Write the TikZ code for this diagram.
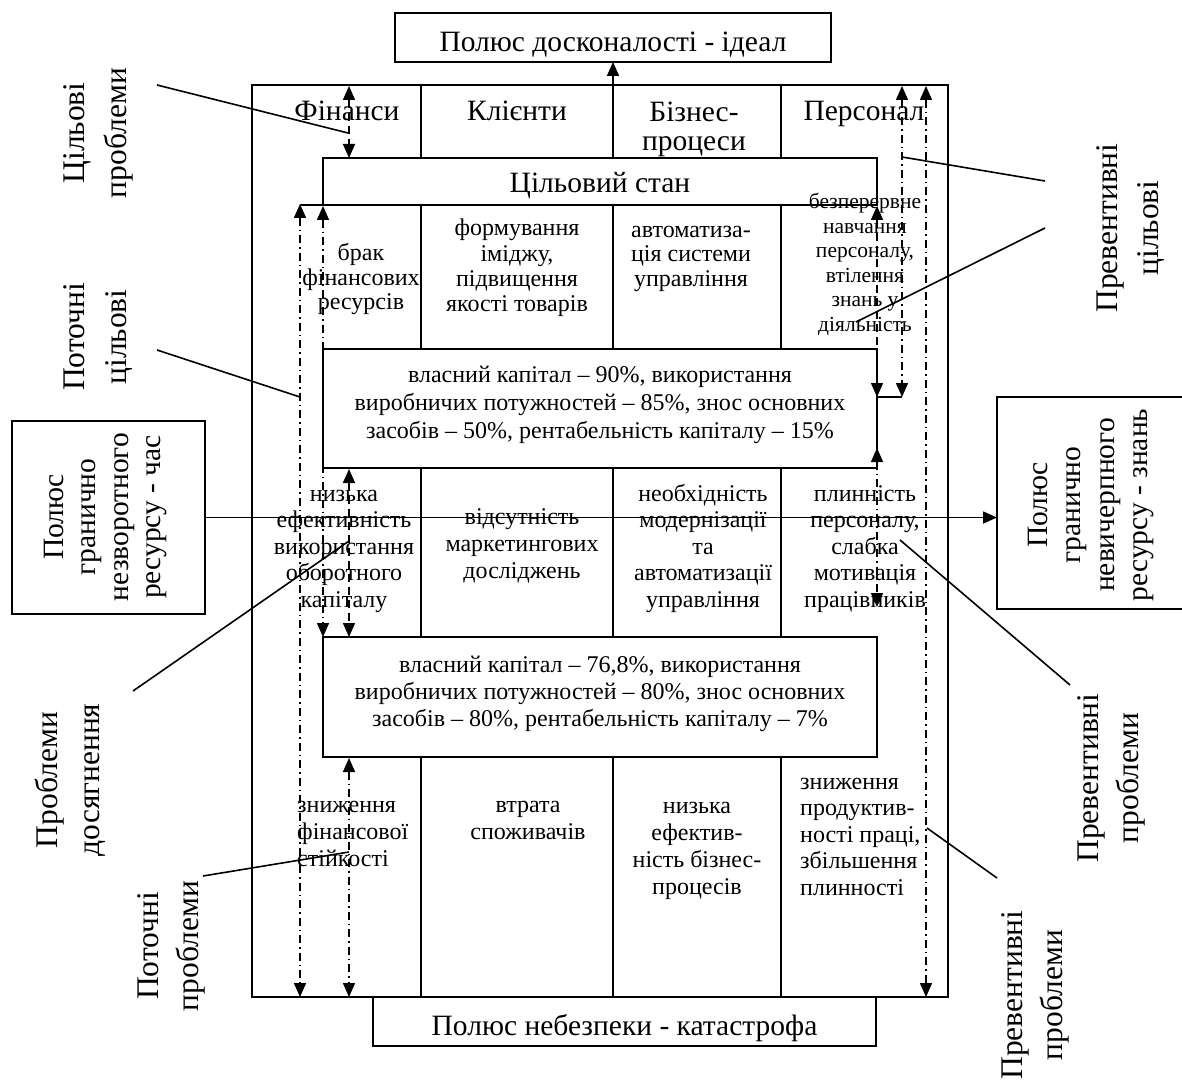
\documentclass[tikz,border=0pt]{standalone}
\usepackage{fontspec}
\setmainfont{Liberation Serif}
\usetikzlibrary{arrows.meta}

\newcommand\fBig{\fontsize{29.5}{33}\selectfont}
\newcommand\fCell{\fontsize{24}{27}\selectfont}
\newcommand\fSmall{\fontsize{21.5}{24}\selectfont}
\newcommand\fLbl{\fontsize{31.5}{36}\selectfont}

% horizontal lines of text, one node per line: name, x, first baseline y, gap, lines
\newcommand\hlines[6][celltext]{%
  \foreach \ln [count=\i] in {#6} {
    \node[#1] (#2-\i) at (#3, {#4+(\i-1)*#5}) {\ln};
  }}
% rotated lines of text (read upwards): name, first baseline x, gap, centre y, lines
\newcommand\vlines[6][vtext]{%
  \foreach \ln [count=\i] in {#6} {
    \node[#1] (#2-\i) at ({#3+(\i-1)*#4}, #5) {\ln};
  }}

\begin{document}
\begin{tikzpicture}[x=1pt,y=-1pt,
  >={Triangle[length=14pt,width=12pt]},
  boxline/.style={draw, line width=1.8pt, inner sep=0pt, outer sep=0pt},
  rule/.style={line width=1.8pt},
  lead/.style={line width=1.6pt},
  dashdot/.style={line width=1.5pt, dash pattern=on 8pt off 4pt on 1.5pt off 4pt, <->},
  dashonly/.style={line width=1.5pt, dash pattern=on 8pt off 5pt, <->},
  celltext/.style={anchor=base, inner sep=0pt, font=\fCell},
  cellleft/.style={anchor=base west, inner sep=0pt, font=\fCell},
  smalltext/.style={anchor=base, inner sep=0pt, font=\fSmall},
  bigtext/.style={anchor=base, inner sep=0pt, font=\fBig},
  vtext/.style={anchor=base, rotate=90, inner sep=0pt, font=\fLbl},
  vbox/.style={anchor=base, rotate=90, inner sep=0pt, font=\fBig}]

\fill[white] (0,0) rectangle (1182,1083);
\useasboundingbox (0,0) rectangle (1182,1083);

% frames
\node[boxline, minimum width=696pt, minimum height=912pt] (frame) at (600,541) {};
\node[boxline, minimum width=436pt, minimum height=49pt] (ideal) at (613,37.5) {};
\node[boxline, minimum width=554pt, minimum height=47pt] (tgt) at (600,181.5) {};
\node[boxline, minimum width=554pt, minimum height=119pt] (plan) at (600,408.5) {};
\node[boxline, minimum width=554pt, minimum height=120pt] (cur) at (600,697) {};
\node[boxline, minimum width=503pt, minimum height=49pt] (danger) at (624.5,1021.5) {};
\node[boxline, minimum width=193pt, minimum height=193pt] (lbox) at (108.5,517.5) {};
\node[boxline, minimum width=203pt, minimum height=212pt] (rbox) at (1098.5,503) {};

% column rules
\foreach \x in {420.8,612.7,781} {
  \draw[rule] (\x,85) -- (\x,158);
  \draw[rule] (\x,205) -- (\x,349);
  \draw[rule] (\x,468) -- (\x,637);
  \draw[rule] (\x,757) -- (\x,997);
}

% connector end points
\coordinate (aT) at (300,205); \coordinate (aB) at (300,997);
\coordinate (bT) at (323,206); \coordinate (bB) at (323,637);
\coordinate (cT) at (349,469); \coordinate (cB) at (349,637);
\coordinate (dT) at (349,758); \coordinate (dB) at (349,997);
\coordinate (eT) at (349,86);  \coordinate (eB) at (349,158);
\coordinate (fT) at (902,86);  \coordinate (fB) at (902,397);
\coordinate (gT) at (926,86);  \coordinate (gB) at (926,997);
\coordinate (hT) at (877,206); \coordinate (hB) at (877,397);
\coordinate (iT) at (877,448); \coordinate (iB) at (877,607);

\draw[rule] (tgt.south west) -- (aT);
\draw[rule] (hB) -- (fB);

% main arrows
\draw[rule, ->] (tgt.north -| ideal.south) -- (ideal.south);
\draw[lead, ->] (lbox.east) -- (lbox.east -| rbox.west);

% dashed links
\draw[dashdot] ([yshift=1pt]aT) -- (aB);
\draw[dashdot] (bT) -- (bB);
\draw[dashonly] (cT) -- (cB);
\draw[dashdot] (dT) -- (dB);
\draw[dashonly] (eT) -- (eB);
\draw[dashdot] (fT) -- (fB);
\draw[dashdot] (gT) -- (gB);
\draw[dashonly] (hT) -- (hB);
\draw[dashdot] (iT) -- (iB);

% leaders
\coordinate (ltp) at (157,85);   \coordinate (ltpE) at (348,133);
\coordinate (lpc) at (157,350);  \coordinate (lpcE) at (300,397);
\coordinate (lpd) at (133,691);  \coordinate (lpdE) at (349,541);
\coordinate (lpp) at (203,876);  \coordinate (lppE) at (349,852);
\coordinate (rpc) at (1045,181); \coordinate (rpcE) at (902,157);
\coordinate (rpcb) at (1045,228);\coordinate (rpcbE) at (856,322);
\coordinate (rpp) at (1070,685); \coordinate (rppE) at (900,540);
\coordinate (rppb) at (997,878); \coordinate (rppbE) at (927,828);
\foreach \p in {ltp,lpc,lpd,lpp,rpc,rpcb,rpp,rppb}
  \draw[lead] (\p) -- (\p E);

% box titles
\node[bigtext] (ideal-t) at (613,52) {Полюс досконалості - ідеал};
\node[bigtext] (tgt-t) at (600,193) {Цільовий стан};
\node[bigtext] (danger-t) at (624.5,1035) {Полюс небезпеки - катастрофа};

% column heads
\hlines[bigtext]{h1}{347}{121}{29}{Фінанси}
\hlines[bigtext]{h2}{517}{121}{29}{Клієнти}
\hlines[bigtext]{h3}{694}{122}{29}{Бізнес-,процеси}
\hlines[bigtext]{h4}{864}{121}{29}{Персонал}

% goals
\hlines{c21}{361}{261}{24}{брак,фінансових,ресурсів}
\hlines{c22}{517}{236}{25.3}{формування,{іміджу,},підвищення,якості товарів}
\hlines{c23}{691}{237}{24.5}{автоматиза-,ція системи,управління}
\hlines[smalltext]{c24}{865}{209}{24.4}{безперервне,навчання,{персоналу,},втілення,знань у,діяльність}

% planned state
\hlines{pl}{600}{382}{28}{{власний капітал – 90\%, використання},{виробничих потужностей – 85\%, знос основних},{засобів – 50\%, рентабельність капіталу – 15\%}}

% problems of reaching
\hlines{c31}{344}{501}{26.5}{низька,ефективність,використання,оборотного,капіталу}
\hlines{c32}{522}{524}{27}{відсутність,маркетингових,досліджень}
\hlines{c33}{703}{501}{26.5}{необхідність,модернізації,та,автоматизації,управління}
\hlines{c34}{865}{501}{26.5}{плинність,{персоналу,},слабка,мотивація,працівників}

% current state
\hlines{cu}{600}{672}{27}{{власний капітал – 76,8\%, використання},{виробничих потужностей – 80\%, знос основних},{засобів – 80\%, рентабельність капіталу – 7\%}}

% current problems
\hlines[cellleft]{c41}{297}{812}{27}{зниження,фінансової,стійкості}
\hlines{c42}{528}{812}{27}{втрата,споживачів}
\hlines{c43}{697}{813}{27}{низька,ефектив-,ність бізнес-,процесів}
\hlines[cellleft]{c44}{800}{789}{26.5}{зниження,продуктив-,{ності праці,},збільшення,плинності}

% side poles
\vlines[vbox]{lb}{63}{32.5}{517}{Полюс,гранично,незворотного,ресурсу - час}
\vlines[vbox]{rb}{1047}{33.5}{505}{Полюс,гранично,невичерпного,ресурсу - знань}

% side captions
\vlines{s1}{84}{42}{133}{Цільові,проблеми}
\vlines{s2}{84}{42}{337}{Поточні,цільові}
\vlines{s3}{57}{42}{780}{Проблеми,досягнення}
\vlines{s4}{158}{40}{946}{Поточні,проблеми}
\vlines{s5}{1117}{41}{228}{Превентивні,цільові}
\vlines{s6}{1098}{40}{778}{Превентивні,проблеми}
\vlines{s7}{1022}{40}{995}{Превентивні,проблеми}
\end{tikzpicture}
\end{document}
